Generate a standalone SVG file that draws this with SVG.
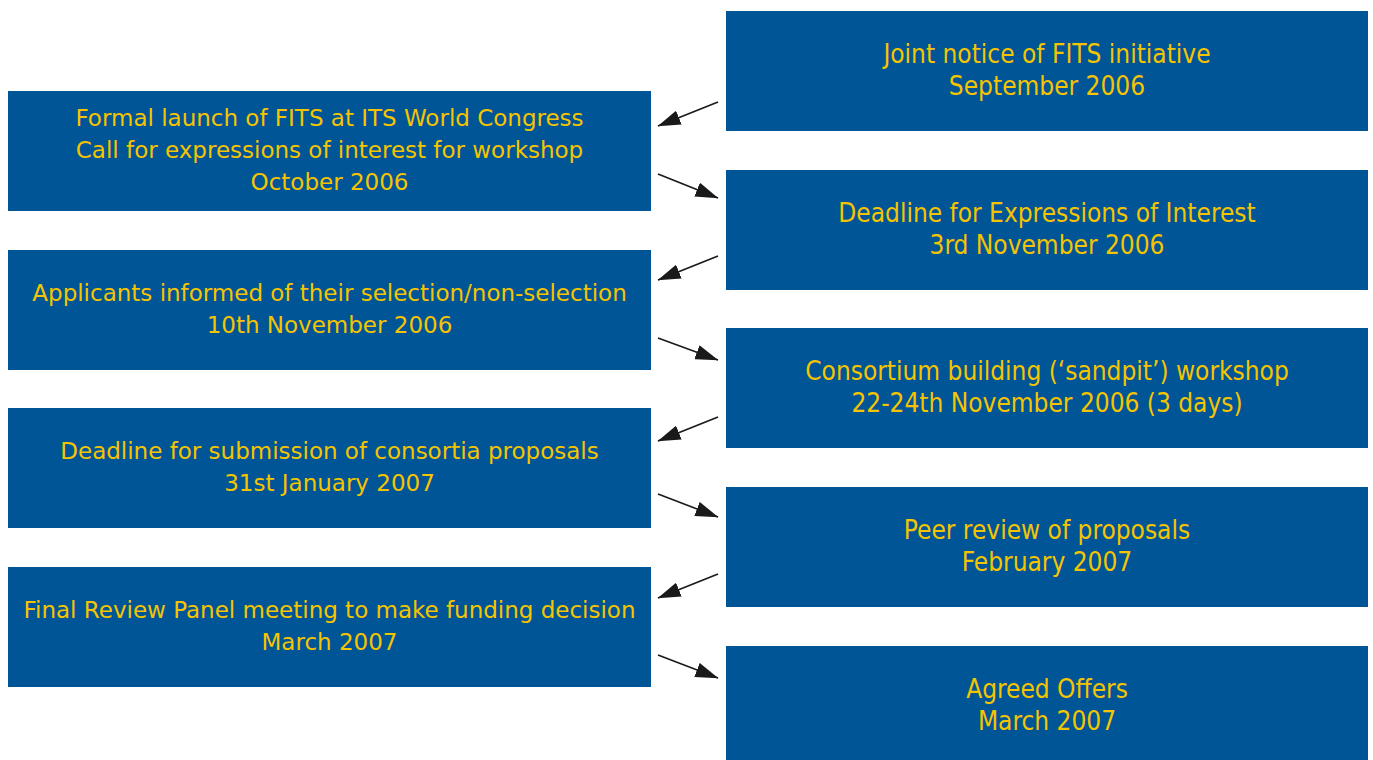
<svg xmlns="http://www.w3.org/2000/svg" width="1373" height="760" viewBox="0 0 1373 760">
<style>
.box{fill:#005596}
.lt{font-family:"DejaVu Sans","Verdana",sans-serif;font-size:23px;fill:#F5C400;text-anchor:middle}
.rt{font-family:"DejaVu Sans Condensed","Liberation Sans Narrow",sans-serif;font-size:26px;fill:#F5C400;text-anchor:middle}
.conn line{stroke:#1a1a1a;stroke-width:1.6;marker-end:url(#ah)}
</style>
<defs>
<marker id="ah" viewBox="0 0 23 15" refX="22.5" refY="7.5" markerWidth="23" markerHeight="15" markerUnits="userSpaceOnUse" orient="auto">
<path d="M0,0 L23,7.5 L0,15 Z" fill="#1a1a1a"/>
</marker>
</defs>
<rect width="1373" height="760" fill="#fff"/>
<g id="n1"><rect class="box" x="726" y="11" width="642" height="120"/><text class="rt" x="1047" y="63">Joint notice of FITS initiative</text><text class="rt" x="1047" y="95">September 2006</text></g>
<g id="n2"><rect class="box" x="8" y="91" width="643" height="120"/><text class="lt" x="329.5" y="126">Formal launch of FITS at ITS World Congress</text><text class="lt" x="329.5" y="158">Call for expressions of interest for workshop</text><text class="lt" x="329.5" y="190">October 2006</text></g>
<g id="n3"><rect class="box" x="726" y="170" width="642" height="120"/><text class="rt" x="1047" y="222">Deadline for Expressions of Interest</text><text class="rt" x="1047" y="254">3rd November 2006</text></g>
<g id="n4"><rect class="box" x="8" y="250" width="643" height="120"/><text class="lt" x="329.5" y="301">Applicants informed of their selection/non-selection</text><text class="lt" x="329.5" y="333">10th November 2006</text></g>
<g id="n5"><rect class="box" x="726" y="328" width="642" height="120"/><text class="rt" x="1047" y="380">Consortium building (‘sandpit’) workshop</text><text class="rt" x="1047" y="412">22-24th November 2006 (3 days)</text></g>
<g id="n6"><rect class="box" x="8" y="408" width="643" height="120"/><text class="lt" x="329.5" y="459">Deadline for submission of consortia proposals</text><text class="lt" x="329.5" y="491">31st January 2007</text></g>
<g id="n7"><rect class="box" x="726" y="487" width="642" height="120"/><text class="rt" x="1047" y="539">Peer review of proposals</text><text class="rt" x="1047" y="571">February 2007</text></g>
<g id="n8"><rect class="box" x="8" y="567" width="643" height="120"/><text class="lt" x="329.5" y="618">Final Review Panel meeting to make funding decision</text><text class="lt" x="329.5" y="650">March 2007</text></g>
<g id="n9"><rect class="box" x="726" y="646" width="642" height="114"/><text class="rt" x="1047" y="698">Agreed Offers</text><text class="rt" x="1047" y="730">March 2007</text></g>
<g class="conn" id="connectors">
<line x1="718" y1="102" x2="658" y2="126"/>
<line x1="658" y1="174" x2="718" y2="198"/>
<line x1="718" y1="256" x2="658" y2="280"/>
<line x1="658" y1="338" x2="718" y2="360"/>
<line x1="718" y1="417" x2="658" y2="441"/>
<line x1="658" y1="494" x2="718" y2="517"/>
<line x1="718" y1="574" x2="658" y2="598"/>
<line x1="658" y1="655" x2="718" y2="678"/>
</g>
</svg>
